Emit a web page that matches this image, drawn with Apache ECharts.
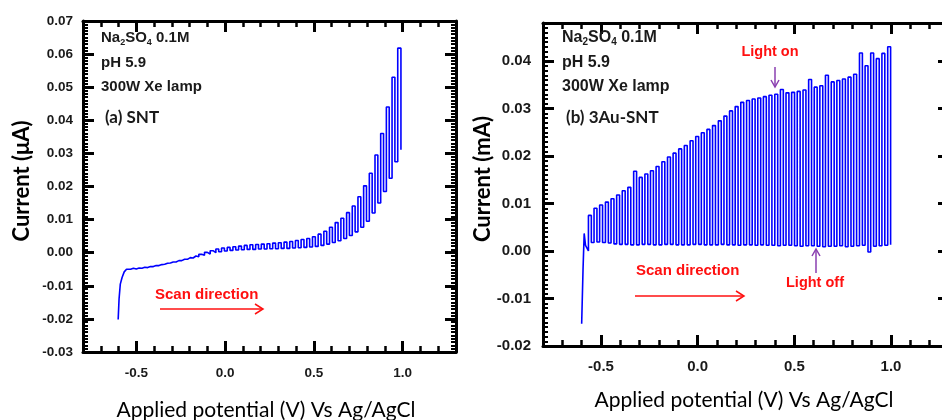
<!DOCTYPE html>
<html><head><meta charset="utf-8">
<script src="https://cdn.jsdelivr.net/npm/echarts@6/dist/echarts.min.js"></script>
<style>html,body{margin:0;padding:0;background:#fff}#c{width:942px;height:420px}</style>
</head><body><div id="c"></div>
<script>
// ---------- tick labels ----------
const xTickLabels = [-0.5, 0.0, 0.5, 1.0];
const xMinorTicks = [-0.8, -0.7, -0.6, -0.4, -0.3, -0.2, -0.1, 0.1, 0.2, 0.3, 0.4, 0.6, 0.7, 0.8, 0.9, 1.1, 1.2, 1.3];
const yTickLabelsA = [-0.03, -0.02, -0.01, 0.00, 0.01, 0.02, 0.03, 0.04, 0.05, 0.06, 0.07];
const yTickLabelsB = [-0.02, -0.01, 0.00, 0.01, 0.02, 0.03, 0.04];

// ---------- panel (a) SNT : current (µA) vs potential (V) ----------
const aStartV = [-0.602, -0.597, -0.590, -0.580, -0.568, -0.555, -0.545];
const aStartI = [-0.0202, -0.0140, -0.0095, -0.0075, -0.0058, -0.0050, -0.0050];
const aOnV = [-0.532,-0.500,-0.468,-0.436,-0.404,-0.372,-0.340,-0.308,-0.276,-0.244,-0.212,-0.180,-0.148,-0.116,-0.084,-0.052,-0.020,0.012,0.044,0.076,0.108,0.140,0.172,0.204,0.236,0.268,0.300,0.332,0.364,0.396,0.428,0.460,0.492,0.524,0.556,0.588,0.620,0.652,0.684,0.716,0.748,0.780,0.812,0.844,0.876,0.908,0.940,0.972];
const aOffV = [-0.516,-0.484,-0.452,-0.420,-0.388,-0.356,-0.324,-0.292,-0.260,-0.228,-0.196,-0.164,-0.132,-0.100,-0.068,-0.036,-0.004,0.028,0.060,0.092,0.124,0.156,0.188,0.220,0.252,0.284,0.316,0.348,0.380,0.412,0.444,0.476,0.508,0.540,0.572,0.604,0.636,0.668,0.700,0.732,0.764,0.796,0.828,0.860,0.892,0.924,0.956,0.990];
const aLight = [-0.0047,-0.0046,-0.0044,-0.0042,-0.0039,-0.0036,-0.0032,-0.0028,-0.0024,-0.0020,-0.0015,-0.0010,-0.0005,0.0001,0.0006,0.0011,0.0014,0.0016,0.0018,0.0020,0.0022,0.0024,0.0025,0.0026,0.0027,0.0029,0.0030,0.0032,0.0034,0.0037,0.0040,0.0043,0.0048,0.0056,0.0065,0.0077,0.0091,0.0104,0.0121,0.0141,0.0169,0.0202,0.0240,0.0295,0.0360,0.0440,0.0530,0.0618];
const aDark = [-0.0050,-0.0049,-0.0047,-0.0045,-0.0042,-0.0039,-0.0035,-0.0031,-0.0028,-0.0024,-0.0020,-0.0016,-0.0012,-0.0008,-0.0004,0.0000,0.0003,0.0005,0.0007,0.0008,0.0009,0.0010,0.0010,0.0011,0.0011,0.0012,0.0012,0.0013,0.0013,0.0014,0.0015,0.0016,0.0017,0.0019,0.0022,0.0026,0.0031,0.0036,0.0043,0.0052,0.0063,0.0077,0.0095,0.0120,0.0150,0.0185,0.0225,0.0275,0.0311];

// ---------- panel (b) 3Au-SNT : current (mA) vs potential (V) ----------
const bStartV = [-0.600, -0.593, -0.587, -0.580];
const bStartI = [-0.0153, -0.0040, 0.0037, 0.0012];
const bOnV = [-0.565,-0.536,-0.507,-0.477,-0.448,-0.419,-0.390,-0.361,-0.331,-0.302,-0.273,-0.244,-0.215,-0.185,-0.156,-0.127,-0.098,-0.069,-0.039,-0.010,0.019,0.048,0.077,0.107,0.136,0.165,0.194,0.223,0.253,0.282,0.311,0.340,0.369,0.399,0.428,0.457,0.486,0.515,0.545,0.574,0.603,0.632,0.661,0.691,0.720,0.749,0.778,0.807,0.837,0.866,0.895,0.924,0.953,0.983];
const bOffV = [-0.550,-0.521,-0.492,-0.462,-0.433,-0.404,-0.375,-0.346,-0.316,-0.287,-0.258,-0.229,-0.200,-0.170,-0.141,-0.112,-0.083,-0.054,-0.024,0.005,0.034,0.063,0.092,0.122,0.151,0.180,0.209,0.238,0.268,0.297,0.326,0.355,0.384,0.414,0.443,0.472,0.501,0.530,0.560,0.589,0.618,0.647,0.676,0.706,0.735,0.764,0.793,0.822,0.852,0.881,0.910,0.939,0.968,0.998];
const bLight = [0.0075,0.0090,0.0097,0.0103,0.0110,0.0118,0.0127,0.0134,0.0168,0.0155,0.0162,0.0169,0.0178,0.0188,0.0198,0.0206,0.0215,0.0222,0.0232,0.0241,0.0249,0.0256,0.0264,0.0274,0.0284,0.0295,0.0304,0.0313,0.0317,0.0320,0.0322,0.0325,0.0328,0.0330,0.0340,0.0333,0.0334,0.0336,0.0339,0.0361,0.0345,0.0348,0.0370,0.0356,0.0359,0.0362,0.0366,0.0372,0.0417,0.0390,0.0417,0.0405,0.0416,0.0430];
const bDark = [0.0000,0.0018,0.0019,0.0018,0.0017,0.0015,0.0014,0.0014,0.0013,0.0013,0.0014,0.0014,0.0013,0.0013,0.0014,0.0014,0.0013,0.0013,0.0013,0.0014,0.0014,0.0013,0.0013,0.0013,0.0014,0.0013,0.0013,0.0012,0.0013,0.0013,0.0012,0.0013,0.0012,0.0012,0.0011,0.0012,0.0012,0.0011,0.0010,0.0011,0.0011,0.0010,0.0009,0.0010,0.0010,0.0011,0.0009,0.0010,0.0011,0.0012,-0.0002,0.0010,0.0011,0.0012,0.0013];

// build chopped-light polylines from the readings
function buildCurve(sv, si, on, off, light, dark) {
  const pts = sv.map((v, i) => [v, si[i]]);
  for (let k = 0; k < on.length; k++) {
    pts.push([on[k], dark[k]], [on[k], light[k]], [off[k], light[k]], [off[k], dark[k + 1]]);
  }
  return pts;
}
const dataA = buildCurve(aStartV, aStartI, aOnV, aOffV, aLight, aDark);
const dataB = buildCurve(bStartV, bStartI, bOnV, bOffV, bLight, bDark);

// minor tick positions every 0.001 (axis decoration only)
function minorList(lo, hi) {
  const out = [];
  for (let i = Math.round(lo * 1000); i <= Math.round(hi * 1000); i++) if (i % 10 !== 0) out.push(i / 1000);
  return out;
}
const yMinorA = minorList(-0.03, 0.07);
const yMinorB = minorList(-0.02, 0.048);

const AX = '#000';
const LBL = '#1a1a1a';
function mkX(gi, pos, showLabel, fs, margin) {
  return [
    { type: 'value', gridIndex: gi, position: pos, min: -0.8, max: 1.3,
      axisLine: { show: true, onZero: false, lineStyle: { color: AX, width: 3 } },
      axisTick: { show: true, inside: true, length: 6, customValues: xMinorTicks, lineStyle: { color: AX, width: 2.5 } },
      axisLabel: { show: false }, splitLine: { show: false } },
    { type: 'value', gridIndex: gi, position: pos, min: -0.8, max: 1.3,
      axisLine: { show: false, onZero: false },
      axisTick: { show: true, inside: true, length: 11, customValues: xTickLabels, lineStyle: { color: AX, width: 3 } },
      axisLabel: { show: showLabel, customValues: xTickLabels, margin: margin, formatter: v => v.toFixed(1),
        fontFamily: 'Liberation Sans', fontWeight: 'bold', fontSize: fs, color: LBL },
      splitLine: { show: false } }
  ];
}
function mkY(gi, pos, min, max, labels, showLabel, fs, margin) {
  return { type: 'value', gridIndex: gi, position: pos, min: min, max: max,
    axisLine: { show: true, onZero: false, lineStyle: { color: AX, width: 3 } },
    axisTick: { show: true, inside: true, length: 11, customValues: labels, lineStyle: { color: AX, width: 3 } },
    axisLabel: { show: showLabel, customValues: labels, margin: margin, formatter: v => v.toFixed(2),
      fontFamily: 'Liberation Sans', fontWeight: 'bold', fontSize: fs, color: LBL },
    splitLine: { show: false } };
}
function mkYMinor(gi, pos, min, max, ticks) {
  return { type: 'value', gridIndex: gi, position: pos, min: min, max: max,
    axisLine: { show: false, onZero: false },
    axisTick: { show: true, inside: true, length: 5, customValues: ticks, lineStyle: { color: AX, width: 2 } },
    axisLabel: { show: false }, splitLine: { show: false } };
}

const red = '#ff1010', purple = '#8a3fb0';
function txt(x, y, text, font, fill, align) {
  return { type: 'text', x: x, y: y, z: 10,
    style: { text: text, font: font, fill: fill, textAlign: align || 'left', textVerticalAlign: 'middle' } };
}
function richTxt(x, y, fs) {
  return { type: 'text', x: x, y: y, z: 10,
    style: { text: '{n|Na}{s|2}{n|SO}{s|4}{n| 0.1M}', textVerticalAlign: 'middle', fill: LBL,
      rich: { n: { fontFamily: 'Liberation Sans', fontWeight: 'bold', fontSize: fs, lineHeight: 18, fill: LBL },
              s: { fontFamily: 'Liberation Sans', fontWeight: 'bold', fontSize: Math.round(fs * 0.6), lineHeight: 4, verticalAlign: 'bottom', fill: LBL } } } };
}
function arrowH(x1, x2, y, c) {
  return [
    { type: 'line', shape: { x1: x1, y1: y, x2: x2, y2: y }, style: { stroke: c, lineWidth: 1.5 } },
    { type: 'polyline', shape: { points: [[x2 - 8, y - 5], [x2, y], [x2 - 8, y + 5]] }, style: { stroke: c, lineWidth: 1.5, fill: null } }
  ];
}
function arrowV(x, yFrom, yTo, c) {
  const d = yTo > yFrom ? -7 : 7;
  return [
    { type: 'line', shape: { x1: x, y1: yFrom, x2: x, y2: yTo }, style: { stroke: c, lineWidth: 1.5 } },
    { type: 'polyline', shape: { points: [[x - 4, yTo + d], [x, yTo], [x + 4, yTo + d]] }, style: { stroke: c, lineWidth: 1.5, fill: null } }
  ];
}

const titleFont = 'bold 22px Lato';
const xTitleFont = '21px Lato';

const option = {
  animation: false,
  backgroundColor: '#fff',
  grid: [
    { left: 83, top: 21, width: 373, height: 331, containLabel: false, outerBoundsMode: 'none' },
    { left: 543, top: 23, width: 406, height: 323, containLabel: false, outerBoundsMode: 'none' }
  ],
  xAxis: [].concat(
    mkX(0, 'bottom', true, 13.5, 14), mkX(0, 'top', false, 13.5, 14),
    mkX(1, 'bottom', true, 15, 13), mkX(1, 'top', false, 15, 13)
  ),
  yAxis: [
    mkY(0, 'left', -0.03, 0.07, yTickLabelsA, true, 13.5, 10),
    mkY(0, 'right', -0.03, 0.07, yTickLabelsA, false, 13.5, 10),
    mkY(1, 'left', -0.02, 0.048, yTickLabelsB, true, 15, 12),
    mkY(1, 'right', -0.02, 0.048, yTickLabelsB, false, 15, 12),
    mkYMinor(0, 'left', -0.03, 0.07, yMinorA),
    mkYMinor(0, 'right', -0.03, 0.07, yMinorA),
    mkYMinor(1, 'left', -0.02, 0.048, yMinorB)
  ],
  series: [
    { type: 'line', xAxisIndex: 0, yAxisIndex: 0, data: dataA, symbol: 'none', showSymbol: false,
      lineStyle: { color: '#0000ff', width: 1.6 }, clip: true },
    { type: 'line', xAxisIndex: 4, yAxisIndex: 2, data: dataB, symbol: 'none', showSymbol: false,
      lineStyle: { color: '#0000ff', width: 1.6 }, clip: true }
  ],
  graphic: [].concat(
    [
      { type: 'text', x: 22, y: 181, rotation: Math.PI / 2, z: 10,
        style: { text: 'Current (μA)', font: titleFont, fill: '#000', textAlign: 'center', textVerticalAlign: 'middle' } },
      { type: 'text', x: 483, y: 179, rotation: Math.PI / 2, z: 10,
        style: { text: 'Current (mA)', font: titleFont, fill: '#000', textAlign: 'center', textVerticalAlign: 'middle' } },
      txt(266, 410, 'Applied potential (V) Vs Ag/AgCl', xTitleFont, '#000', 'center'),
      txt(744, 400, 'Applied potential (V) Vs Ag/AgCl', xTitleFont, '#000', 'center'),
      richTxt(101, 38, 15),
      txt(101, 63, 'pH 5.9', 'bold 15px "Liberation Sans"', LBL),
      txt(101, 87, '300W Xe lamp', 'bold 15px "Liberation Sans"', LBL),
      txt(105, 118, '(a) SNT', 'bold 17px Lato', LBL),
      txt(155, 295, 'Scan direction', 'bold 15px "Liberation Sans"', red),
      richTxt(562, 38, 16),
      txt(562, 63, 'pH 5.9', 'bold 16px "Liberation Sans"', LBL),
      txt(562, 87, '300W Xe lamp', 'bold 16px "Liberation Sans"', LBL),
      txt(566, 118, '(b) 3Au-SNT', 'bold 17px Lato', LBL),
      txt(770, 52, 'Light on', 'bold 14.5px "Liberation Sans"', red, 'center'),
      txt(815, 283, 'Light off', 'bold 14.5px "Liberation Sans"', red, 'center'),
      txt(636, 271, 'Scan direction', 'bold 15px "Liberation Sans"', red)
    ],
    arrowH(160, 263, 309, red),
    arrowH(635, 744, 296, red),
    arrowV(775, 67, 87, purple),
    arrowV(816, 273, 249, purple)
  )
};
const chart = echarts.init(document.getElementById('c'), null, { renderer: 'canvas' });
chart.setOption(option);
</script></body></html>
